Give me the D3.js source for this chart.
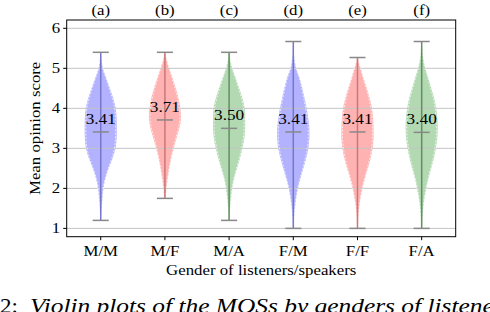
<!DOCTYPE html>
<html><head><meta charset="utf-8">
<script src="https://cdn.jsdelivr.net/npm/d3@7"></script>
<style>
html,body{margin:0;padding:0;background:#fff;}
svg{display:block;}
text{font-family:"Liberation Serif","Times New Roman",serif;fill:#000;}
</style></head>
<body>
<script>
const categories = ["M/M","M/F","M/A","F/M","F/F","F/A"];
const panelLabels = ["(a)","(b)","(c)","(d)","(e)","(f)"];
const means = [3.41, 3.71, 3.50, 3.41, 3.41, 3.40];
const mins = [1.2, 1.75, 1.2, 1.0, 1.0, 1.0];
const maxs = [5.4, 5.4, 5.4, 5.67, 5.27, 5.67];
const yTicks = [1, 2, 3, 4, 5, 6];
const fills = ["rgba(0,0,255,0.3)","rgba(255,0,0,0.3)","rgba(0,128,0,0.3)","rgba(0,0,255,0.3)","rgba(255,0,0,0.3)","rgba(0,128,0,0.3)"];
const barColors = ["#7676cc","#cc7676","#5f905f","#7676cc","#cc7676","#5f905f"];

// density profiles: [score, relative half-width]
const profileMM = [[1.2,0.02],[1.5,0.06],[1.75,0.11],[2.0,0.17],[2.25,0.3],[2.5,0.5],[2.75,0.74],[3.0,0.92],[3.25,0.99],[3.5,1.0],[3.75,0.99],[4.0,0.93],[4.25,0.78],[4.5,0.57],[4.75,0.35],[5.0,0.14],[5.2,0.06],[5.4,0.02]];
const profileMF = [[1.75,0.03],[2.0,0.1],[2.25,0.18],[2.5,0.28],[2.75,0.4],[3.0,0.55],[3.25,0.72],[3.5,0.9],[3.75,1.0],[4.0,0.96],[4.25,0.85],[4.5,0.68],[4.75,0.48],[5.0,0.28],[5.2,0.12],[5.4,0.03]];
const profileMA = [[1.2,0.02],[1.5,0.06],[1.75,0.12],[2.0,0.2],[2.25,0.32],[2.5,0.5],[2.75,0.68],[3.0,0.83],[3.25,0.95],[3.5,1.0],[3.75,1.0],[4.0,0.97],[4.25,0.83],[4.5,0.63],[4.75,0.42],[5.0,0.2],[5.2,0.08],[5.4,0.02]];
const profileFM = [[1.0,0.02],[1.25,0.05],[1.5,0.1],[1.75,0.18],[2.0,0.29],[2.25,0.45],[2.5,0.63],[2.75,0.8],[3.0,0.94],[3.25,1.0],[3.5,1.0],[3.75,0.93],[4.0,0.83],[4.25,0.7],[4.5,0.56],[4.75,0.4],[5.0,0.18],[5.25,0.07],[5.5,0.03],[5.67,0.01]];
const profileFF = [[1.0,0.02],[1.25,0.05],[1.5,0.1],[1.75,0.19],[2.0,0.31],[2.25,0.47],[2.5,0.65],[2.75,0.82],[3.0,0.94],[3.25,1.0],[3.5,1.0],[3.75,0.97],[4.0,0.9],[4.25,0.76],[4.5,0.58],[4.75,0.38],[5.0,0.2],[5.15,0.08],[5.27,0.02]];
const profileFA = [[1.0,0.02],[1.25,0.05],[1.5,0.1],[1.75,0.18],[2.0,0.29],[2.25,0.43],[2.5,0.6],[2.75,0.76],[3.0,0.88],[3.25,0.97],[3.5,1.0],[3.75,0.98],[4.0,0.9],[4.25,0.78],[4.5,0.6],[4.75,0.42],[5.0,0.23],[5.25,0.1],[5.5,0.04],[5.67,0.01]];
const profiles = [profileMM, profileMF, profileMA, profileFM, profileFF, profileFA];

const xLabel = "Gender of listeners/speakers";
const yLabel = "Mean opinion score";
const captionNum = "2:";
const captionText = "Violin plots of the MOSs by genders of listeners";

const W = 490, H = 312;
const m = {left: 66.7, right: 455.7, top: 20, bottom: 236.7};
const svg = d3.select("body").append("svg").attr("width", W).attr("height", H);

const x = d3.scaleLinear().domain([0.47, 6.53]).range([m.left, m.right]);
const y = d3.scaleLinear().domain([0.7925, 6.2075]).range([m.bottom, m.top]);
const halfW = 0.25, capW = 0.125;
const SX = 1.2;

// violin bodies
profiles.forEach((p, i) => {
  const c = i + 1;
  const a = d3.area().y(d => y(d[0])).curve(d3.curveCatmullRom)
    .x0(d => x(c - d[1]*halfW)).x1(d => x(c + d[1]*halfW));
  svg.append("path").attr("d", a(p)).attr("fill", fills[i]).attr("stroke", "none");
});

// grid
svg.append("g").selectAll("line").data(yTicks).join("line")
  .attr("x1", m.left).attr("x2", m.right)
  .attr("y1", d => y(d)).attr("y2", d => y(d))
  .attr("stroke", "#c4c4c4").attr("stroke-width", 1);

// white dashed outlines
profiles.forEach((p, i) => {
  const c = i + 1;
  const a = d3.area().y(d => y(d[0])).curve(d3.curveCatmullRom)
    .x0(d => x(c - d[1]*halfW*0.93)).x1(d => x(c + d[1]*halfW*0.93));
  svg.append("path").attr("d", a(p)).attr("fill", "none")
    .attr("stroke", "#fff").attr("stroke-width", 0.8).attr("stroke-dasharray", "2,1.5").attr("opacity", 0.9);
});

// bars, caps, means
categories.forEach((cat, i) => {
  const c = i + 1;
  svg.append("line").attr("x1", x(c)).attr("x2", x(c)).attr("y1", y(mins[i])).attr("y2", y(maxs[i]))
    .attr("stroke", barColors[i]).attr("stroke-width", 1.5);
  [mins[i], maxs[i], means[i]].forEach(v => {
    svg.append("line").attr("x1", x(c - capW)).attr("x2", x(c + capW)).attr("y1", y(v)).attr("y2", y(v))
      .attr("stroke", "#888").attr("stroke-width", 1.5);
  });
  svg.append("text").attr("transform", `translate(${x(c)},${y(means[i]) - 8}) scale(1.15,1)`)
    .attr("text-anchor", "middle").attr("font-size", 15).text(means[i].toFixed(2));
  svg.append("text").attr("transform", `translate(${x(c)},${14.5}) scale(${SX},1)`)
    .attr("text-anchor", "middle").attr("font-size", 14).text(panelLabels[i]);
});

// frame
svg.append("rect").attr("x", m.left).attr("y", m.top).attr("width", m.right - m.left).attr("height", m.bottom - m.top)
  .attr("fill", "none").attr("stroke", "#000").attr("stroke-width", 1);

// y ticks
yTicks.forEach(t => {
  svg.append("line").attr("x1", m.left - 3.5).attr("x2", m.left).attr("y1", y(t)).attr("y2", y(t)).attr("stroke", "#000");
  svg.append("text").attr("transform", `translate(${m.left - 6.5},${y(t) + 4.8}) scale(${SX},1)`)
    .attr("text-anchor", "end").attr("font-size", 14).text(t);
});
// x ticks
categories.forEach((cat, i) => {
  const c = i + 1;
  svg.append("line").attr("x1", x(c)).attr("x2", x(c)).attr("y1", m.bottom).attr("y2", m.bottom + 3.5).attr("stroke", "#000");
  svg.append("text").attr("transform", `translate(${x(c)},${256}) scale(${SX},1)`)
    .attr("text-anchor", "middle").attr("font-size", 14).text(cat);
});

// axis labels
svg.append("text").attr("transform", `translate(${(m.left + m.right)/2},${274.5}) scale(${SX},1)`)
  .attr("text-anchor", "middle").attr("font-size", 14).text(xLabel);
svg.append("text").attr("transform", `translate(${40},${(m.top + m.bottom)/2}) rotate(-90) scale(${SX},1)`)
  .attr("text-anchor", "middle").attr("font-size", 14).text(yLabel);

// caption (cut off at the page edge, as in the reference)
svg.append("text").attr("transform", `translate(0,313) scale(1.15,1)`).attr("font-size", 20).text(captionNum);
svg.append("text").attr("transform", `translate(30,313) scale(1.27,1)`).attr("font-size", 20)
  .attr("font-style", "italic").text(captionText);
</script>
</body></html>
